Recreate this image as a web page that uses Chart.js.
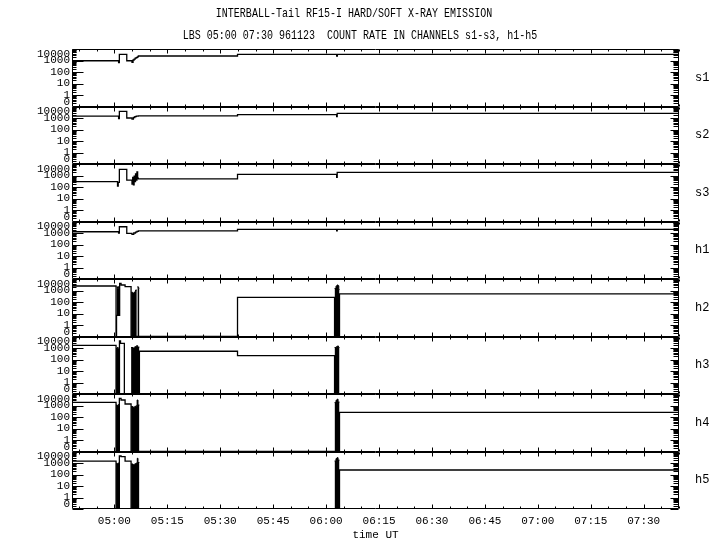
<!DOCTYPE html>
<html>
<head>
<meta charset="utf-8">
<script src="https://cdn.jsdelivr.net/npm/chart.js@4"></script>
<style>
  body { margin: 0; background: #fff; }
  #wrap { position: relative; width: 720px; height: 550px; }
  .ttl { position: absolute; left: 0; width: 720px; text-align: center; font: 13px "Liberation Mono", monospace;
         line-height: 16px; white-space: pre; transform: scaleX(0.77); color: #000; }
  canvas { position: absolute; left: 0; top: 0; }
</style>
</head>
<body>
<div id="wrap">
  <canvas id="myChart" width="720" height="550"></canvas>
  <div class="ttl" style="top:6px; left:-6px">INTERBALL-Tail RF15-I HARD/SOFT X-RAY EMISSION</div>
  <div class="ttl" style="top:28px">LBS 05:00 07:30 961123  COUNT RATE IN CHANNELS s1-s3, h1-h5</div>
</div>
<script>
// times are minutes of the day (300 = 05:00 UT), rates are counts, 0 = zero count
const FLOOR = 0.1;
const panelNames = ["s1", "s2", "s3", "h1", "h2", "h3", "h4", "h5"];
const yTickValues = [0, 1, 10, 100, 1000, 10000];
const yTickLabels = ["0", "1", "10", "100", "1000", "10000"];
const xTickValues = [300, 315, 330, 345, 360, 375, 390, 405, 420, 435, 450];
const xTickLabels = ["05:00", "05:15", "05:30", "05:45", "06:00", "06:15", "06:30", "06:45", "07:00", "07:15", "07:30"];

//~====step lines====~//
const s1Time = [288, 301.2, 301.42, 303.52, 305.0, 305.3, 305.6, 305.9, 306.2, 306.5, 306.8, 334.9, 363.0, 363.2, 460];
const s1Rate = [950, 650, 3450, 950, 700, 1100, 1300, 1600, 1800, 2100, 2450, 3450, 2400, 3450, 3450];
const s2Time = [288, 301.2, 301.42, 303.52, 305.0, 305.4, 305.8, 306.2, 306.8, 334.9, 363.0, 363.15, 460];
const s2Rate = [1480, 900, 3700, 1000, 800, 1100, 1300, 1450, 1550, 1950, 1300, 2550, 2550];
const s3Time = [288, 300.9, 301.1, 301.42, 303.52, 305.0, 305.2, 305.4, 305.6, 305.8, 306.0, 306.2, 306.4, 306.6, 306.8, 334.9, 363.0, 363.15, 460];
const s3Rate = [290, 120, 250, 3450, 400, 180, 700, 150, 900, 300, 1400, 400, 2100, 600, 500, 1260, 700, 1900, 1900];
const h1Time = [288, 301.2, 301.42, 303.52, 305.0, 305.5, 306.0, 306.4, 306.8, 334.9, 363.0, 363.15, 460];
const h1Rate = [1290, 1000, 3500, 940, 750, 1000, 1200, 1400, 1550, 2090, 1500, 2090, 2090];
const h2Time = [288, 300.48, 300.62, 301.5, 301.9, 303.04, 304.74, 334.9, 362.4, 363.8, 460];
const h2Rate = [2450, 0, 7, 4200, 3000, 2140, 0, 257, 0, 500, 500];
const h3Time = [288, 300.48, 301.45, 301.75, 302.84, 307.1, 334.9, 362.4, 460];
const h3Rate = [1700, 0, 4070, 2570, 0, 520, 220, 0, 0];
const h4Time = [288, 300.48, 301.42, 301.9, 303.04, 304.74, 362.4, 363.8, 460];
const h4Rate = [1900, 0, 4200, 3000, 1350, 0, 0, 257, 257];
const h5Time = [288, 300.48, 301.42, 301.9, 303.04, 304.74, 362.4, 363.8, 460];
const h5Rate = [1480, 0, 4070, 3530, 1480, 0, 0, 245, 245];

//~====dense bursts (drawn filled)====~//
const h2BurstTime = [[300.62, 300.9, 301.2, 301.5], [304.74, 305.2, 305.7, 306.0, 306.36], [306.53, 306.8, 307.1], [362.4, 362.8, 363.1, 363.4, 363.6, 363.8]];
const h2BurstTop = [[2100, 1500, 2200, 2200], [700, 600, 750, 1100, 1100], [2100, 1600, 1600], [1500, 2400, 3000, 2600, 1200, 1200]];
const h2BurstFloor = [7, 0, 0, 0];
const h3BurstTime = [[300.48, 300.8, 301.1, 301.35], [304.74, 305.3, 305.8, 306.3, 306.6, 307.1], [362.4, 362.9, 363.2, 363.5, 363.8]];
const h3BurstTop = [[900, 1100, 800, 800], [1100, 1000, 1300, 1600, 1200, 1200], [1100, 1300, 1500, 1100, 1100]];
const h3BurstFloor = [0, 0, 0];
const h4BurstTime = [[300.48, 300.8, 301.1, 301.42], [304.74, 305.3, 305.8, 306.3, 306.45, 306.7, 307.1], [362.4, 362.8, 363.1, 363.4, 363.8]];
const h4BurstTop = [[1100, 1000, 1200, 1200], [800, 700, 850, 1000, 3000, 1100, 1100], [1800, 2800, 3500, 2000, 2000]];
const h4BurstFloor = [0, 0, 0];
const h5BurstTime = [[300.48, 300.8, 301.1, 301.42], [304.74, 305.3, 305.8, 306.2, 306.5, 306.7, 307.1], [362.4, 362.8, 363.1, 363.4, 363.8]];
const h5BurstTop = [[940, 850, 1000, 1000], [820, 700, 850, 1000, 2570, 1100, 1100], [1500, 2400, 2900, 1800, 1800]];
const h5BurstFloor = [0, 0, 0];

const series = {
  s1: [s1Time, s1Rate], s2: [s2Time, s2Rate], s3: [s3Time, s3Rate], h1: [h1Time, h1Rate],
  h2: [h2Time, h2Rate], h3: [h3Time, h3Rate], h4: [h4Time, h4Rate], h5: [h5Time, h5Rate]
};
const bursts = {
  h2: [h2BurstTime, h2BurstTop, h2BurstFloor], h3: [h3BurstTime, h3BurstTop, h3BurstFloor],
  h4: [h4BurstTime, h4BurstTop, h4BurstFloor], h5: [h5BurstTime, h5BurstTop, h5BurstFloor]
};

const monoFont = { family: "'Liberation Mono', monospace", size: 11 };

let datasets = [];
panelNames.forEach((name) => {
  const b = bursts[name];
  if (b) {
    b[0].forEach((ts, k) => {
      datasets.push({
        data: ts.map((t, i) => ({ x: t, y: b[1][k][i] || FLOOR })),
        yAxisID: name,
        stepped: true,
        borderColor: "#000",
        backgroundColor: "#000",
        borderWidth: 1,
        pointRadius: 0,
        fill: { value: b[2][k] || FLOOR },
      });
    });
  }
  datasets.push({
    data: series[name][0].map((t, i) => ({ x: t, y: series[name][1][i] || FLOOR })),
    yAxisID: name,
    stepped: true,
    borderColor: "#000",
    borderWidth: 1.3,
    pointRadius: 0,
    fill: false,
  });
});

// end labels of each panel sit a little inside, like the original plot
function yLabel(v, i) {
  const txt = yTickLabels[i];
  if (i === 0) return [txt, ""];
  if (i === yTickLabels.length - 1) return ["", txt];
  return txt;
}

//!=======scales=======!//
const scales = {
  x: {
    type: "linear",
    position: "bottom",
    min: 288,
    max: 460,
    afterBuildTicks: (s) => { s.ticks = xTickValues.map((v) => ({ value: v })); },
    afterFit: (s) => { s.height = 41; },
    ticks: { autoSkip: false, maxRotation: 0, padding: 5, color: "#000", font: monoFont,
      callback: (v, i) => xTickLabels[i] },
    grid: { display: false, drawTicks: false },
    border: { display: false },
    title: { display: true, text: "time UT", color: "#000", font: monoFont, padding: { top: 0, bottom: 8 } },
  },
};
// later boxes are placed on top, so add bottom panel first
panelNames.slice().reverse().forEach((name) => {
  scales[name] = {
    type: "logarithmic",
    position: "left",
    stack: "panels",
    stackWeight: 1,
    min: FLOOR,
    max: 10000,
    afterBuildTicks: (s) => { s.ticks = yTickValues.map((v) => ({ value: v || FLOOR })); },
    afterFit: (s) => { s.width = 72; },
    ticks: { autoSkip: false, padding: 2, color: "#000", font: { family: monoFont.family, size: 11, lineHeight: 0.85 },
      callback: yLabel },
    grid: { display: false, drawTicks: false },
    border: { display: false },
  };
});

//~====frame, inner ticks and channel names====~//
const panelFrame = {
  id: "panelFrame",
  afterDatasetsDraw(chart) {
    const ctx = chart.ctx;
    const xs = chart.scales.x;
    const L = Math.round(chart.chartArea.left) + 0.5;
    const R = Math.round(chart.chartArea.right) - 0.5;
    ctx.save();
    ctx.strokeStyle = "#000";
    ctx.lineWidth = 1;
    ctx.beginPath();
    panelNames.forEach((name) => {
      const ys = chart.scales[name];
      const top = Math.round(ys.top) + 0.5;
      const bot = Math.round(ys.bottom) - 0.5;
      ctx.moveTo(L, top); ctx.lineTo(R, top);
      ctx.moveTo(L, bot); ctx.lineTo(R, bot);
      ctx.moveTo(L, top); ctx.lineTo(L, bot);
      ctx.moveTo(R, top); ctx.lineTo(R, bot);
      // log ticks on both sides
      for (let d = FLOOR; d < 10000; d *= 10) {
        for (let m = 1; m <= 9; m++) {
          const y = Math.round(ys.getPixelForValue(d * m)) + 0.5;
          const major = m === 1;
          ctx.moveTo(L, y); ctx.lineTo(L + (major ? 11 : 4), y);
          ctx.moveTo(R, y); ctx.lineTo(R - (major ? 8 : 5), y);
        }
      }
      const yt = Math.round(ys.getPixelForValue(10000)) + 0.5;
      ctx.moveTo(L, yt); ctx.lineTo(L + 11, yt);
      ctx.moveTo(R, yt); ctx.lineTo(R - 8, yt);
      // time ticks on top and bottom border
      for (let t = 290; t <= 460; t += 5) {
        const x = Math.round(xs.getPixelForValue(t)) + 0.5;
        const len = t % 15 === 0 ? 4 : 2;
        ctx.moveTo(x, top); ctx.lineTo(x, top + len);
        ctx.moveTo(x, bot); ctx.lineTo(x, bot - len);
      }
    });
    ctx.stroke();
    ctx.fillStyle = "#000";
    ctx.font = "12px 'Liberation Mono', monospace";
    ctx.textBaseline = "middle";
    ctx.textAlign = "left";
    panelNames.forEach((name) => {
      const ys = chart.scales[name];
      ctx.fillText(name, 695, (ys.top + ys.bottom) / 2);
    });
    ctx.restore();
  },
};

const ctx = document.getElementById("myChart");
const myChart = new Chart(ctx, {
  type: "line",
  data: { datasets: datasets },
  options: {
    responsive: false,
    animation: false,
    layout: { padding: { top: 49, right: 41, left: 0, bottom: 0 } },
    plugins: { legend: { display: false }, tooltip: { enabled: false }, title: { display: false } },
    scales: scales,
  },
  plugins: [panelFrame],
});
</script>
</body>
</html>
